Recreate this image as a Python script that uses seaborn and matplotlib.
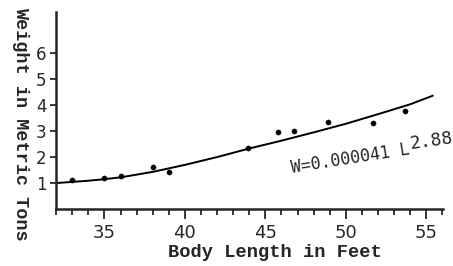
import matplotlib
matplotlib.use("Agg")
import matplotlib.pyplot as plt
import seaborn as sns
import pandas as pd
from matplotlib.ticker import MultipleLocator

# observed whales: body length (feet) and weight (metric tons)
length_ft = [33.0, 35.0, 36.0, 38.0, 39.0, 43.9, 45.8, 46.8, 48.9, 51.7, 53.7]
weight_t = [1.12, 1.20, 1.28, 1.63, 1.43, 2.36, 2.95, 3.00, 3.36, 3.30, 3.78]

# fitted curve
curve_len = [32.0, 34.0, 35.0, 36.0, 38.0, 40.0, 42.0, 44.0, 46.0, 48.0, 50.0, 52.0, 54.0, 55.4]
curve_wt = [1.00, 1.09, 1.15, 1.22, 1.43, 1.70, 2.00, 2.33, 2.63, 2.95, 3.28, 3.65, 4.03, 4.36]

x_ticks = [35, 40, 45, 50, 55]
y_ticks = [1, 2, 3, 4, 5, 6]

pts = pd.DataFrame({"L": length_ft, "W": weight_t})
fit = pd.DataFrame({"L": curve_len, "W": curve_wt})

sns.set_style("ticks")
plt.rcParams["font.family"] = ["DejaVu Sans"]

fig = plt.figure(figsize=(4.53, 2.66), dpi=100)
ax = fig.add_axes([0.124, 0.214, 0.854, 0.741])

sns.lineplot(data=fit, x="L", y="W", ax=ax, color="black", linewidth=1.4,
             sort=False, estimator=None)
sns.scatterplot(data=pts, x="L", y="W", ax=ax, color="black", s=14,
                edgecolor="black", zorder=3)

ax.set_xlim(32, 56.04)
ax.set_ylim(0, 7.58)
ax.set_xticks(x_ticks)
ax.xaxis.set_minor_locator(MultipleLocator(1))
ax.set_yticks(y_ticks)
ax.tick_params(axis="x", which="major", length=7, width=1.3, pad=4, labelsize=13)
ax.tick_params(axis="x", which="minor", length=4, width=1.3)
ax.tick_params(axis="y", length=4, width=1.3, pad=3, labelsize=12)
sns.despine(ax=ax)
for s in ["left", "bottom"]:
    ax.spines[s].set_linewidth(1.8)

mono = ["Liberation Mono", "DejaVu Sans Mono"]
ax.set_xlabel("")
ax.set_ylabel("")
fig.text(0.607, 0.034, "Body Length in Feet", family=mono, fontsize=13.5,
         fontweight="bold", ha="center", va="baseline")
fig.text(0.046, 0.534, "Weight in Metric Tons", family=mono, fontsize=13.3,
         fontweight="bold", rotation=270, ha="center", va="center")

eq_font = ["DejaVu Sans Mono"]
ax.text(46.66, 1.38, "W=0.000041 L", family=eq_font, fontsize=12,
        rotation=9, rotation_mode="anchor", ha="left", va="baseline")
ax.text(54.0, 2.3, "2.88", family=eq_font, fontsize=13,
        rotation=8, rotation_mode="anchor", ha="left", va="baseline")

fig.savefig("out.png", dpi=100)
